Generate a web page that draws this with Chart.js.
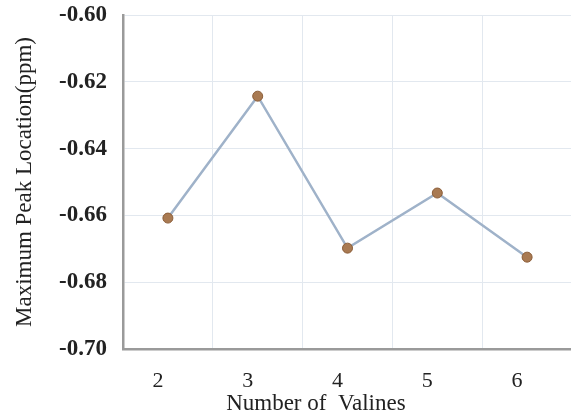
<!DOCTYPE html>
<html>
<head>
<meta charset="utf-8">
<script src="https://cdn.jsdelivr.net/npm/chart.js@4.4.1/dist/chart.umd.min.js"></script>
<style>
  html, body { margin: 0; padding: 0; background: #fff; }
  #wrap { width: 571px; height: 419px; overflow: hidden; }
  canvas { display: block; }
</style>
</head>
<body>
<div id="wrap"><canvas id="myChart" width="578" height="419"></canvas></div>
<script>
// data
const valines = ["2", "3", "4", "5", "6"];
const peakLocation = [-0.6608, -0.6243, -0.6698, -0.6533, -0.6725];
const yTicks = [-0.70, -0.68, -0.66, -0.64, -0.62, -0.60];

const ctx = document.getElementById("myChart");

new Chart(ctx, {
  type: "line",
  data: {
    labels: valines,
    datasets: [
      {
        data: peakLocation,
        borderColor: "#9fb2c9",
        borderWidth: 2.5,
        pointRadius: 5,
        pointBackgroundColor: "#a97a52",
        pointBorderColor: "#8b5d38",
        pointBorderWidth: 1,
        tension: 0,
      },
    ],
  },
  options: {
    responsive: false,
    animation: false,
    layout: { padding: { top: 15, left: 0, right: 0, bottom: 0 } },
    plugins: { legend: { display: false }, tooltip: { enabled: false } },
    scales: {
      x: {
        offset: true,
        grid: { offset: true, color: "#e2e8ef", drawTicks: false },
        border: { color: "#9a9a9a", width: 2.5 },
        ticks: {
          padding: 19,
          labelOffset: -10,
          color: "#222",
          font: { family: "Liberation Serif", size: 22 },
        },
        title: {
          display: true,
          text: "Number of  Valines           ",
          color: "#222",
          font: { family: "Liberation Serif", size: 23 },
          padding: { top: 0, bottom: 1 },
        },
        afterFit: (scale) => { scale.height = 70; },
      },
      y: {
        min: -0.70,
        max: -0.60,
        afterBuildTicks: (scale) => { scale.ticks = yTicks.map((v) => ({ value: v })); },
        grid: { color: "#e2e8ef", drawTicks: false },
        border: { color: "#9a9a9a", width: 2.5 },
        ticks: {
          padding: 16,
          color: "#222",
          font: { family: "Liberation Serif", size: 23, weight: "bold" },
          callback: (v) => Number(v).toFixed(2),
        },
        title: {
          display: true,
          text: "Maximum Peak Location(ppm)",
          color: "#222",
          font: { family: "Liberation Serif", size: 23 },
          padding: { top: 11, bottom: 0 },
        },
        afterFit: (scale) => {
          scale.width = 123;
          scale.paddingTop = 0;
          scale.paddingBottom = 0;
        },
      },
    },
  },
});
</script>
</body>
</html>
